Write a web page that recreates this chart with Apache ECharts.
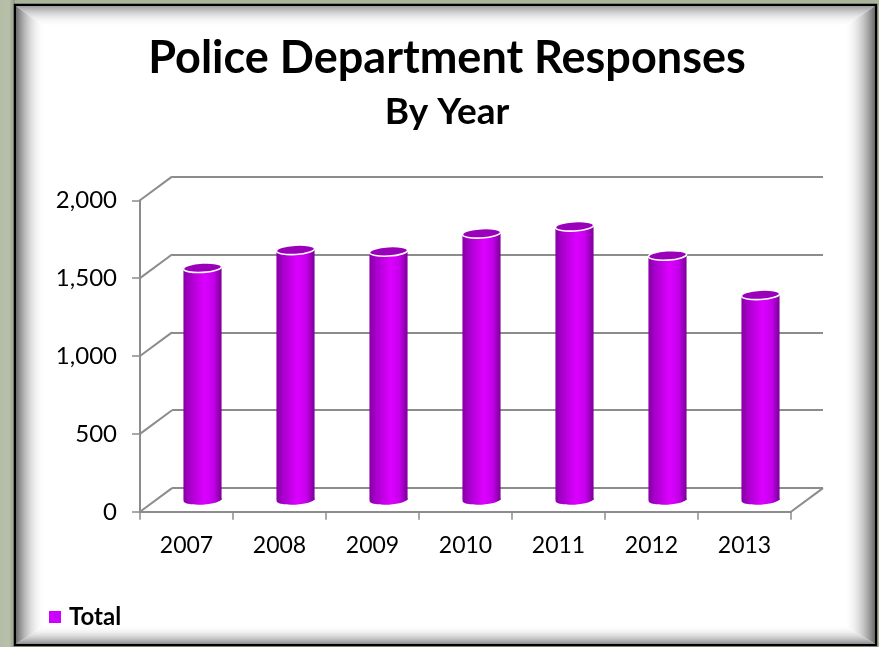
<!DOCTYPE html>
<html>
<head>
<meta charset="utf-8">
<script src="https://cdn.jsdelivr.net/npm/echarts@6/dist/echarts.min.js"></script>
<style>
  html, body { margin: 0; padding: 0; background: #aab39b; }
  #chart { width: 879px; height: 647px; }
</style>
</head>
<body>
<div id="chart"></div>
<script>
// Data
const years = ['2007', '2008', '2009', '2010', '2011', '2012', '2013'];
const totals = [1491, 1606, 1596, 1712, 1757, 1570, 1317];
const yTicks = [0, 500, 1000, 1500, 2000];
const seriesName = 'Total';
const titleText = 'Police Department Responses';
const subtitleText = 'By Year';

// Layout of the pseudo-3D box: front plane, middle plane (bars), back wall
const FONT = 'Lato, "Open Sans", sans-serif';
const PLOT_W = 651, PLOT_H = 311.5;
const FRONT = { left: 140, top: 200.3 };
const DEPTH_X = 32, DEPTH_Y = -23.7;          // front -> back offset
const MID = { left: FRONT.left + DEPTH_X / 2, top: FRONT.top + DEPTH_Y / 2 };
const BACK = { left: FRONT.left + DEPTH_X, top: FRONT.top + DEPTH_Y };
const GRID_COLOR = '#8c8c8c';
const BAR_WIDTH_RATIO = 0.41;
const CAP_RY = 4.7;

const chart = echarts.init(document.getElementById('chart'), null, { renderer: 'canvas' });

const bodyGradient = new echarts.graphic.LinearGradient(0, 0, 1, 0, [
  { offset: 0, color: '#8600a4' },
  { offset: 0.18, color: '#a900cc' },
  { offset: 0.55, color: '#dc00ff' },
  { offset: 0.78, color: '#c600ec' },
  { offset: 1, color: '#7c0098' }
]);

function renderCylinder(params, api) {
  const i = api.value(0);
  const top = api.coord([i, api.value(1)]);
  const base = api.coord([i, 0]);
  const w = api.size([1, 0])[0] * BAR_WIDTH_RATIO;
  const cx = top[0], rx = w / 2;
  return {
    type: 'group',
    children: [
      { type: 'ellipse', shape: { cx: cx, cy: base[1], rx: rx, ry: CAP_RY },
        rotation: 0.06, originX: cx, originY: base[1],
        style: { fill: bodyGradient } },
      { type: 'rect', shape: { x: cx - rx, y: top[1], width: w, height: base[1] - top[1] },
        style: { fill: bodyGradient } },
      { type: 'ellipse', shape: { cx: cx, cy: top[1], rx: rx, ry: CAP_RY },
        rotation: 0.06, originX: cx, originY: top[1],
        style: { fill: '#9a00ba', stroke: '#ffffff', lineWidth: 1.6 } }
    ]
  };
}

// Side wall and floor edges joining the front plane to the back wall
function renderWallEdges(params, api) {
  const v = api.value(1);
  const p = api.coord([0, v]);
  const band = api.size([1, 0])[0];
  const x0 = p[0] - band / 2;
  const lineStyle = { stroke: GRID_COLOR, lineWidth: 2 };
  const children = [
    { type: 'line', shape: { x1: x0, y1: p[1], x2: x0 + DEPTH_X, y2: p[1] + DEPTH_Y }, style: lineStyle }
  ];
  if (v === 0) {
    const x1 = api.coord([years.length - 1, 0])[0] + band / 2;
    children.push({ type: 'line', shape: { x1: x1, y1: p[1], x2: x1 + DEPTH_X, y2: p[1] + DEPTH_Y }, style: lineStyle });
  }
  return { type: 'group', children: children };
}

function bevel(points, x2, y2, from, to) {
  return {
    type: 'polygon', silent: true, z: -10,
    shape: { points: points },
    style: { fill: new echarts.graphic.LinearGradient(0, 0, x2, y2, [
      { offset: 0, color: from }, { offset: 1, color: to }]) }
  };
}

const FX0 = 15, FY0 = 5, FX1 = 876, FY1 = 645;

const option = {
  backgroundColor: '#aab39b',
  animation: false,
  textStyle: { fontFamily: FONT },
  graphic: [
    { type: 'rect', silent: true, z: -11,
      shape: { x: 0, y: 0, width: FX0, height: 647 },
      style: { fill: new echarts.graphic.LinearGradient(0, 0, 1, 0, [
        { offset: 0, color: '#b3bca5' }, { offset: 0.6, color: '#b8c0aa' }, { offset: 1, color: '#8f9a82' }]) } },
    { type: 'rect', silent: true, z: -11,
      shape: { x: FX0, y: FY0, width: FX1 - FX0, height: FY1 - FY0 },
      style: { fill: '#ffffff', stroke: '#000000', lineWidth: 2.5 } },
    bevel([[FX0 + 1, FY0 + 1], [FX0 + 30, FY0 + 22], [FX0 + 30, FY1 - 20], [FX0 + 1, FY1 - 1]], 1, 0, '#6c6c6c', 'rgba(255,255,255,0)'),
    bevel([[FX0 + 1, FY0 + 1], [FX1 - 1, FY0 + 1], [FX1 - 32, FY0 + 22], [FX0 + 30, FY0 + 22]], 0, 1, '#9c9c9c', 'rgba(255,255,255,0)'),
    bevel([[FX1 - 1, FY0 + 1], [FX1 - 1, FY1 - 1], [FX1 - 32, FY1 - 20], [FX1 - 32, FY0 + 22]], 1, 0, 'rgba(255,255,255,0)', '#6a6a6a'),
    bevel([[FX0 + 1, FY1 - 1], [FX0 + 30, FY1 - 20], [FX1 - 32, FY1 - 20], [FX1 - 1, FY1 - 1]], 0, 1, 'rgba(255,255,255,0)', '#8e8e8e'),
    { type: 'text', silent: true, z: 10, x: 447, y: 58,
      style: { text: titleText, fontFamily: FONT, fontSize: 45, fontWeight: 'bold', fill: '#000',
        align: 'center', verticalAlign: 'middle' } },
    { type: 'text', silent: true, z: 10, x: 447, y: 112,
      style: { text: subtitleText, fontFamily: FONT, fontSize: 37, fontWeight: 'bold', fill: '#000',
        align: 'center', verticalAlign: 'middle' } }
  ],
  legend: {
    data: [seriesName], left: 44, top: 600, icon: 'rect', itemWidth: 12, itemHeight: 12, itemGap: 6,
    textStyle: { fontFamily: FONT, fontSize: 24, fontWeight: 'bold', color: '#000', padding: [0, 0, 0, 3] }
  },
  grid: [
    { left: BACK.left, top: BACK.top, width: PLOT_W, height: PLOT_H },
    { left: MID.left, top: MID.top, width: PLOT_W, height: PLOT_H },
    { left: FRONT.left, top: FRONT.top, width: PLOT_W, height: PLOT_H }
  ],
  xAxis: [
    { gridIndex: 0, type: 'category', data: years, show: false },
    { gridIndex: 1, type: 'category', data: years, show: false },
    { gridIndex: 2, type: 'category', data: years,
      axisLine: { lineStyle: { color: GRID_COLOR, width: 2 } },
      axisTick: { show: true, length: 8, lineStyle: { color: GRID_COLOR, width: 1.5 } },
      axisLabel: { fontFamily: FONT, fontSize: 23, color: '#000', margin: 22 } }
  ],
  yAxis: [
    { gridIndex: 0, type: 'value', min: yTicks[0], max: yTicks[yTicks.length - 1], interval: yTicks[1] - yTicks[0],
      axisLine: { show: false }, axisTick: { show: false }, axisLabel: { show: false },
      splitLine: { show: true, lineStyle: { color: GRID_COLOR, width: 2 } } },
    { gridIndex: 1, type: 'value', min: yTicks[0], max: yTicks[yTicks.length - 1], show: false },
    { gridIndex: 2, type: 'value', min: yTicks[0], max: yTicks[yTicks.length - 1], interval: yTicks[1] - yTicks[0],
      axisLine: { show: true, lineStyle: { color: GRID_COLOR, width: 2 } },
      axisTick: { show: true, length: 8, lineStyle: { color: GRID_COLOR, width: 1.5 } },
      splitLine: { show: false },
      axisLabel: { fontFamily: FONT, fontSize: 24, color: '#000', margin: 23,
        formatter: function (v) { return v.toLocaleString('en-US'); } } }
  ],
  series: [
    { type: 'custom', name: 'walls', xAxisIndex: 2, yAxisIndex: 2, z: 1, silent: true,
      renderItem: renderWallEdges,
      data: yTicks.map(function (v) { return [0, v]; }) },
    { type: 'custom', name: seriesName, xAxisIndex: 1, yAxisIndex: 1, z: 3,
      itemStyle: { color: '#cc00ff' },
      renderItem: renderCylinder,
      data: totals.map(function (v, i) { return [i, v]; }) }
  ]
};

chart.setOption(option);
</script>
</body>
</html>
